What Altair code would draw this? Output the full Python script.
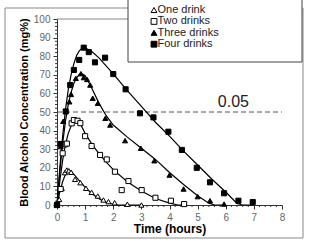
import altair as alt
import pandas as pd

series_names = ["One drink", "Two drinks", "Three drinks", "Four drinks"]
shapes = ["triangle-up", "square", "triangle-up", "square"]
fills = ["white", "white", "black", "black"]

# measured points (time in hours, concentration in mg%)
one_t = [0, 0.08, 0.17, 0.28, 0.35, 0.42, 0.5, 0.64, 0.83, 1.03, 1.23, 1.45, 1.65, 1.83, 2.05, 2.5, 3.0]
one_c = [0, 3, 9, 17.4, 18.8, 18.4, 17.6, 13.8, 12, 9, 6.8, 4.8, 2.7, 1.8, 1.2, 0.4, 0]

two_t = [0, 0.13, 0.2, 0.28, 0.35, 0.52, 0.6, 0.73, 0.83, 1.0, 1.23, 1.53, 1.77, 2.06, 2.3, 2.54, 3.01, 3.5, 4.05, 4.52]
two_c = [0, 8.6, 27.8, 32.6, 33, 43.9, 45.7, 45.3, 44, 37, 31.7, 26.9, 24.5, 17.9, 8, 12.9, 8, 3.9, 2.3, 0.5]

three_t = [0, 0.13, 0.22, 0.44, 0.5, 0.67, 0.85, 0.95, 1.07, 1.18, 1.27, 1.45, 1.72, 1.89, 2.42, 2.98, 3.46, 4.0, 4.5, 5.0, 5.44, 5.94]
three_c = [0, 31.4, 45, 55.5, 59.5, 68.1, 70.6, 68.5, 67.5, 64.5, 57.4, 54.7, 46.6, 43, 34.6, 30.5, 23.8, 16.1, 8.6, 4.5, 2.3, 0.5]

four_t = [0, 0.13, 0.31, 0.47, 0.6, 0.79, 0.95, 1.13, 1.35, 1.71, 2.0, 2.44, 2.95, 3.43, 3.96, 4.44, 4.97, 5.44, 5.94, 6.45, 6.96]
four_c = [0, 32.8, 50.3, 64.5, 72.6, 78, 84.6, 82.2, 76.7, 79.2, 70.4, 62.2, 49.3, 47.1, 39.4, 29.6, 20, 12.2, 6.3, 2.3, 1.6]

# fitted curves
one_ft = [0, 0.1, 0.2, 0.3, 0.4, 0.5, 0.6, 0.8, 1.0, 1.2, 1.4, 1.6, 1.8, 2.0, 2.2, 3.0]
one_fc = [0, 7, 12.5, 16.5, 18.3, 18.2, 16.5, 13, 9.5, 6.7, 4.3, 2.5, 1.2, 0.4, 0, 0]

two_ft = [0, 0.1, 0.2, 0.3, 0.4, 0.5, 0.6, 0.7, 0.8, 1.0, 1.25, 1.5, 1.75, 2.0, 2.5, 3.0, 3.5, 4.0, 4.3, 4.6]
two_fc = [0, 13, 24, 32.5, 38.5, 42.5, 44.5, 45.2, 44.5, 38.5, 32.5, 27.5, 23, 19, 12.5, 7.5, 3.5, 1, 0, 0]

three_ft = [0, 0.1, 0.2, 0.3, 0.4, 0.5, 0.6, 0.7, 0.8, 0.9, 1.0, 1.2, 1.5, 1.75, 2.0, 2.5, 3.0, 3.5, 4.0, 4.5, 5.0, 5.4, 5.6, 6.0]
three_fc = [0, 18, 33, 45, 54, 60.5, 65.5, 68.5, 70.3, 70.5, 69.5, 64, 54.5, 48, 43, 36.5, 30.5, 24.5, 17.5, 11, 5, 1, 0, 0]

four_ft = [0, 0.1, 0.2, 0.3, 0.4, 0.5, 0.6, 0.7, 0.8, 0.9, 1.0, 1.2, 1.5, 2.0, 2.5, 3.0, 3.5, 4.0, 4.5, 5.0, 5.5, 6.0, 6.4, 6.6, 7.0]
four_fc = [0, 20, 37, 51, 62, 70, 76, 80.5, 83, 84.3, 84.3, 83, 79, 70.5, 61.5, 53, 44.5, 37, 29, 21.5, 14, 7, 0.8, 0, 0]

limit_value = [50]
limit_label = ["0.05"]

x_major = list(range(0, 9))
y_major = list(range(0, 101, 10))
x_minor = [round(i * 0.2, 1) for i in range(41) if i % 5 != 0]
y_minor = [v for v in range(0, 101, 2) if v % 10 != 0]

pts_rows, fit_rows = [], []
for name, ts, cs in zip(series_names, [one_t, two_t, three_t, four_t], [one_c, two_c, three_c, four_c]):
    pts_rows += [{"series": name, "t": t, "c": c} for t, c in zip(ts, cs)]
for name, ts, cs in zip(series_names, [one_ft, two_ft, three_ft, four_ft], [one_fc, two_fc, three_fc, four_fc]):
    fit_rows += [{"series": name, "t": t, "c": c} for t, c in zip(ts, cs)]
pts = pd.DataFrame(pts_rows)
fits = pd.DataFrame(fit_rows)

FONT = "Liberation Sans"
W, H = 225, 186

xs = alt.Scale(domain=[0, 8], nice=False)
ys = alt.Scale(domain=[0, 100], nice=False)
shape_scale = alt.Scale(domain=series_names, range=shapes)
fill_scale = alt.Scale(domain=series_names, range=fills)

x_axis = alt.Axis(
    values=x_major, format="d", tickSize=4, grid=False, title="Time (hours)",
    titleFontSize=12, titleFontWeight="bold", titleFont=FONT, titleColor="black",
    labelFontSize=10, labelColor="#666", labelFont=FONT, labelPadding=3,
    titlePadding=1, domainColor="#333", tickColor="#333", labelFlush=False,
    labelOverlap=False,
)
y_axis = alt.Axis(
    values=y_major, format="d", tickSize=4, grid=False,
    title="Blood Alcohol Concentration (mg%)",
    titleFontSize=11, titleFontWeight="bold", titleFont=FONT, titleColor="black",
    labelFontSize=10, labelColor="#666", labelFont=FONT, labelPadding=3,
    titlePadding=4, domainColor="#333", tickColor="#333", labelFlush=False,
    labelOverlap=False,
)

def X(field):
    return alt.X(field, scale=xs, axis=x_axis)

def Y(field):
    return alt.Y(field, scale=ys, axis=y_axis)

one = pd.DataFrame({"k": [0]})

frame = alt.Chart(one).mark_rect(fill=None, stroke="#888", strokeWidth=1).encode(
    x=alt.value(-52), x2=alt.value(246), y=alt.value(-11), y2=alt.value(219)
)
legend_box = alt.Chart(one).mark_rect(fill="white", stroke="#444", strokeWidth=1).encode(
    x=alt.value(71), x2=alt.value(245), y=alt.value(-21), y2=alt.value(43)
)

top_rule = alt.Chart(pd.DataFrame({"c": [100], "a": [0], "b": [8]})).mark_rule(
    color="#888", strokeWidth=1
).encode(y=Y("c:Q"), x=X("a:Q"), x2="b:Q")

x_minor_ticks = alt.Chart(pd.DataFrame({"t": x_minor})).mark_rule(color="#333", strokeWidth=1).encode(
    x=X("t:Q"), y=alt.value(H), y2=alt.value(H + 2)
)
y_minor_ticks = alt.Chart(pd.DataFrame({"c": y_minor})).mark_rule(color="#333", strokeWidth=1).encode(
    y=Y("c:Q"), x=alt.value(0), x2=alt.value(-2)
)

dash = alt.Chart(pd.DataFrame({"c": limit_value, "a": [0], "b": [8]})).mark_rule(
    color="#555", strokeDash=[5, 3], strokeWidth=1
).encode(y=Y("c:Q"), x=X("a:Q"), x2="b:Q")

dash_text = alt.Chart(pd.DataFrame({"c": [52.6], "t": [6.27], "lab": limit_label})).mark_text(
    fontSize=16, font=FONT, color="#222", baseline="alphabetic", align="center"
).encode(x=X("t:Q"), y=Y("c:Q"), text="lab:N")

lines = alt.Chart(fits).mark_line(color="black", strokeWidth=1.2).encode(
    x=X("t:Q"), y=Y("c:Q"), detail="series:N",
)

points = alt.Chart(pts).mark_point(filled=False, color="black", opacity=1, size=26, strokeWidth=1).encode(
    x=X("t:Q"), y=Y("c:Q"),
    shape=alt.Shape("series:N", scale=shape_scale, legend=None),
    fill=alt.Fill("series:N", scale=fill_scale, legend=None),
)

# hand-built legend (entries from series_names)
leg_df = pd.DataFrame({"series": series_names, "row": list(range(len(series_names)))})
leg_sym = alt.Chart(leg_df).transform_calculate(ly="-9 + datum.row * 11.4").mark_point(
    filled=False, color="black", opacity=1, size=34, strokeWidth=1
).encode(
    x=alt.value(97), y=alt.Y("ly:Q", scale=None),
    shape=alt.Shape("series:N", scale=shape_scale, legend=None),
    fill=alt.Fill("series:N", scale=fill_scale, legend=None),
)
leg_txt = alt.Chart(leg_df).transform_calculate(ly="-9 + datum.row * 11.4").mark_text(
    align="left", baseline="middle", fontSize=11, font=FONT, color="#222"
).encode(x=alt.value(100.5), y=alt.Y("ly:Q", scale=None), text="series:N")

chart = alt.layer(
    frame, top_rule, legend_box, x_minor_ticks, y_minor_ticks, dash, dash_text,
    lines, points, leg_sym, leg_txt
).properties(
    width=W, height=H,
    padding={"left": 57, "top": 19, "right": 27, "bottom": 40},
    autosize=alt.AutoSizeParams(type="none"),
    background="white",
).configure_view(stroke=None)

chart.save("out.html", embed_options={"renderer": "svg", "actions": False})
